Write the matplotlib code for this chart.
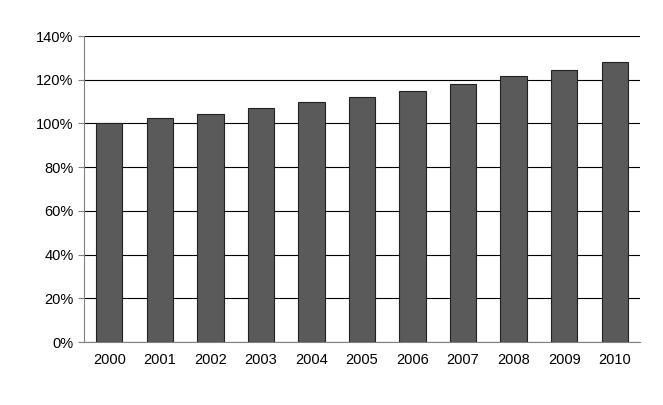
import matplotlib
matplotlib.use("Agg")
import matplotlib.pyplot as plt
from matplotlib.ticker import FuncFormatter

years = ["2000","2001","2002","2003","2004","2005","2006","2007","2008","2009","2010"]
values = [100, 102.5, 104.5, 107, 110, 112, 115, 118, 121.5, 124.5, 128]
yticks = [0, 20, 40, 60, 80, 100, 120, 140]

plt.rcParams["font.family"] = "Liberation Sans"
fig = plt.figure(figsize=(6.63, 4.05), dpi=100)
ax = fig.add_axes([84/663, 1-342/405, (640-84)/663, (342-36)/405])
x = range(len(years))
ax.bar(x, values, width=0.52, color="#5a5a5a", edgecolor="#222222", linewidth=0.8, zorder=3)
ax.set_ylim(0, 140)
ax.set_xlim(-0.5, len(years)-0.5)
ax.set_yticks(yticks)
ax.yaxis.set_major_formatter(FuncFormatter(lambda v, p: f"{int(v)}%"))
ax.set_xticks(list(x))
ax.set_xticklabels(years)
ax.grid(axis="y", color="#000000", linewidth=0.8, zorder=0)
for s in ["top", "right"]:
    ax.spines[s].set_visible(False)
ax.spines["left"].set_color("#808080")
ax.spines["bottom"].set_color("#808080")
ax.tick_params(axis="both", labelsize=10.5, colors="#000000", length=4, color="#808080")
ax.tick_params(axis="x", length=0, pad=8)
fig.savefig("out.png", dpi=100)
